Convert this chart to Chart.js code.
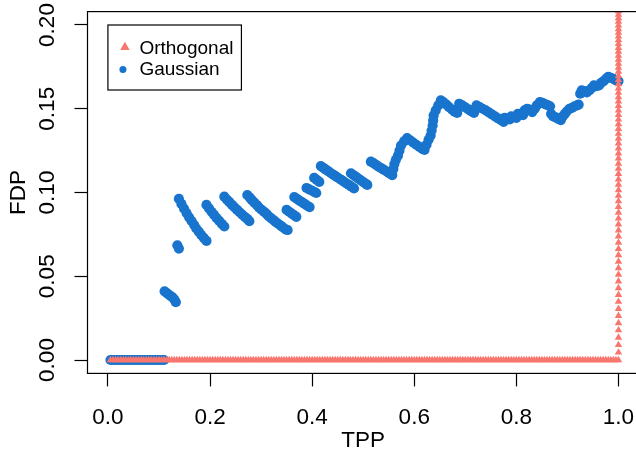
<!DOCTYPE html>
<html>
<head>
<meta charset="utf-8">
<script src="https://cdn.jsdelivr.net/npm/chart.js@4.4.1/dist/chart.umd.min.js"></script>
<style>
  html, body { margin: 0; padding: 0; background: #fff; overflow: hidden; }
  #wrap { position: absolute; left: 0; top: 0; width: 644px; height: 454px; }
</style>
</head>
<body>
<div id="wrap"><canvas id="fdp-chart"></canvas></div>
<script>
// axes
const xTicks = [0, 0.2, 0.4, 0.6, 0.8, 1.0];
const xTickLabels = ['0.0', '0.2', '0.4', '0.6', '0.8', '1.0'];
const yTicks = [0, 0.05, 0.10, 0.15, 0.20];
const yTickLabels = ['0.00', '0.05', '0.10', '0.15', '0.20'];
const seriesNames = ['Orthogonal', 'Gaussian'];

// Orthogonal: FDP stays 0 all the way to TPP = 1, then climbs at TPP = 1
const orthFlatTpp = [
  0.005,0.010,0.015,0.020,0.025,0.030,0.035,0.040,0.045,0.050,0.055,0.060,0.065,0.070,0.075,0.080,0.085,0.090,0.095,0.100,
  0.105,0.110,0.115,0.120,0.125,0.130,0.135,0.140,0.145,0.150,0.155,0.160,0.165,0.170,0.175,0.180,0.185,0.190,0.195,0.200,
  0.205,0.210,0.215,0.220,0.225,0.230,0.235,0.240,0.245,0.250,0.255,0.260,0.265,0.270,0.275,0.280,0.285,0.290,0.295,0.300,
  0.305,0.310,0.315,0.320,0.325,0.330,0.335,0.340,0.345,0.350,0.355,0.360,0.365,0.370,0.375,0.380,0.385,0.390,0.395,0.400,
  0.405,0.410,0.415,0.420,0.425,0.430,0.435,0.440,0.445,0.450,0.455,0.460,0.465,0.470,0.475,0.480,0.485,0.490,0.495,0.500,
  0.505,0.510,0.515,0.520,0.525,0.530,0.535,0.540,0.545,0.550,0.555,0.560,0.565,0.570,0.575,0.580,0.585,0.590,0.595,0.600,
  0.605,0.610,0.615,0.620,0.625,0.630,0.635,0.640,0.645,0.650,0.655,0.660,0.665,0.670,0.675,0.680,0.685,0.690,0.695,0.700,
  0.705,0.710,0.715,0.720,0.725,0.730,0.735,0.740,0.745,0.750,0.755,0.760,0.765,0.770,0.775,0.780,0.785,0.790,0.795,0.800,
  0.805,0.810,0.815,0.820,0.825,0.830,0.835,0.840,0.845,0.850,0.855,0.860,0.865,0.870,0.875,0.880,0.885,0.890,0.895,0.900,
  0.905,0.910,0.915,0.920,0.925,0.930,0.935,0.940,0.945,0.950,0.955,0.960,0.965,0.970,0.975,0.980,0.985,0.990,0.995,1.000
];
const orthFdpAtFull = [
  0.0045,0.0090,0.0134,0.0178,0.0221,0.0264,0.0306,0.0348,0.0389,0.0430,0.0470,0.0510,0.0549,0.0588,0.0626,0.0664,0.0701,
  0.0738,0.0774,0.0810,0.0845,0.0880,0.0914,0.0948,0.0981,0.1014,0.1047,0.1079,0.1111,0.1142,0.1173,0.1204,0.1234,0.1264,
  0.1293,0.1322,0.1351,0.1380,0.1408,0.1436,0.1463,0.1490,0.1517,0.1544,0.1570,0.1596,0.1622,0.1647,0.1672,0.1697,0.1722,
  0.1746,0.1770,0.1794,0.1818,0.1841,0.1864,0.1887,0.1910,0.1932,0.1954,0.1976,0.1998,0.2020,0.2041,0.2062,0.2083,0.2104
];

// Gaussian: one row per run of the saw-tooth
const gaussTpp = [
  0.005,0.010,0.015,0.020,0.025,0.030,0.035,0.040,0.045,0.050,0.055,0.060,0.065,0.070,0.075,0.080,0.085,0.090,0.095,0.100,0.105,0.110,
  0.111,0.116,0.121,0.126,0.130,0.133,
  0.136,0.139,
  0.139,0.144,0.149,0.154,0.159,0.164,0.169,0.173,0.178,0.183,0.188,0.193,
  0.193,0.198,0.203,0.208,0.213,0.218,0.223,0.228,
  0.228,0.233,0.238,0.243,0.248,0.253,0.258,0.263,0.268,0.273,0.277,
  0.273,0.278,0.282,0.287,0.292,0.296,0.301,0.306,0.311,0.315,0.320,0.325,0.329,0.334,0.339,0.343,0.348,0.352,
  0.350,0.355,0.360,0.365,0.369,
  0.365,0.370,0.375,0.380,0.385,0.390,0.395,
  0.389,0.394,0.399,0.404,0.408,
  0.404,0.409,0.414,
  0.417,0.422,0.427,0.432,0.437,0.442,0.447,0.452,0.457,0.462,0.467,0.472,0.477,0.482,
  0.476,0.481,0.486,0.491,0.496,0.501,0.506,0.508,
  0.515,0.520,0.525,0.530,0.535,0.540,0.545,0.550,0.555,0.557,
  0.559,0.561,0.564,0.568,0.571,0.574,0.580,0.586,
  0.592,0.598,0.604,0.610,0.616,0.620,
  0.624,0.628,0.632,0.634,0.636,0.637,0.638,0.642,0.647,0.652,
  0.657,0.663,0.668,0.674,0.679,0.684,
  0.686,0.688,0.694,0.700,0.706,0.711,0.717,
  0.719,0.722,0.728,0.734,0.740,0.746,0.752,0.758,0.764,0.770,0.775,
  0.777,0.782,0.787,0.790,0.795,0.800,0.803,0.808,0.813,0.816,0.821,0.826,0.831,
  0.836,0.840,0.846,0.851,0.856,0.861,0.866,
  0.868,0.872,0.877,0.882,0.887,
  0.891,0.895,0.899,0.904,0.909,0.914,0.919,0.922,
  0.925,0.928,0.933,0.938,0.943,0.948,0.952,0.957,0.962,0.966,0.971,0.976,0.980,0.985,0.990,0.995,1.000
];
const gaussFdp = [
  0,0,0,0,0,0,0,0,0,0,0,0,0,0,0,0,0,0,0,0,0,0,
  0.0410,0.0398,0.0386,0.0375,0.0362,0.0345,
  0.0685,0.0665,
  0.0962,0.0932,0.0904,0.0877,0.0852,0.0829,0.0806,0.0785,0.0766,0.0746,0.0728,0.0711,
  0.0926,0.0905,0.0885,0.0866,0.0847,0.0830,0.0813,0.0797,
  0.0975,0.0958,0.0942,0.0926,0.0911,0.0896,0.0882,0.0868,0.0855,0.0842,0.0829,
  0.0985,0.0969,0.0954,0.0939,0.0924,0.0910,0.0897,0.0884,0.0871,0.0858,0.0846,0.0834,0.0823,0.0812,0.0801,0.0791,0.0780,0.0776,
  0.0896,0.0885,0.0874,0.0864,0.0855,
  0.0973,0.0962,0.0952,0.0942,0.0932,0.0922,0.0913,
  0.1027,0.1019,0.1012,0.1004,0.0997,
  0.1087,0.1075,0.1063,
  0.1158,0.1147,0.1136,0.1126,0.1115,0.1105,0.1095,0.1085,0.1075,0.1065,0.1055,0.1045,0.1035,0.1025,
  0.1115,0.1104,0.1093,0.1082,0.1071,0.1060,0.1050,0.1045,
  0.1184,0.1175,0.1165,0.1155,0.1145,0.1136,0.1127,0.1117,0.1108,0.1104,
  0.1140,0.1170,0.1195,0.1220,0.1250,0.1280,0.1305,0.1325,
  0.1312,0.1298,0.1285,0.1272,0.1260,0.1254,
  0.1285,0.1315,0.1340,0.1370,0.1400,0.1430,0.1460,0.1490,0.1520,0.1550,
  0.1540,0.1525,0.1510,0.1495,0.1482,0.1475,
  0.1500,0.1530,0.1520,0.1508,0.1496,0.1485,0.1475,
  0.1500,0.1520,0.1510,0.1500,0.1490,0.1478,0.1466,0.1454,0.1442,0.1432,0.1422,
  0.1445,0.1440,0.1436,0.1455,0.1450,0.1446,0.1470,0.1466,0.1462,0.1490,0.1500,0.1495,0.1480,
  0.1500,0.1520,0.1540,0.1535,0.1528,0.1522,0.1515,
  0.1470,0.1455,0.1448,0.1440,0.1432,
  0.1455,0.1470,0.1485,0.1500,0.1505,0.1515,0.1520,0.1525,
  0.1590,0.1610,0.1605,0.1598,0.1610,0.1625,0.1640,0.1635,0.1640,0.1655,0.1665,0.1680,0.1690,0.1685,0.1678,0.1670,0.1665
];

const FONT = '"Liberation Sans", Arial, Helvetica, sans-serif';
const orthColor = '#F8766D';
const gaussColor = '#1874CD';

const orthPoints = orthFlatTpp.map(t => ({ x: t, y: 0 }))
  .concat(orthFdpAtFull.map(f => ({ x: 1, y: f })));
const gaussPoints = gaussTpp.map((t, i) => ({ x: t, y: gaussFdp[i] }));

// box, axis texts and legend in R style
const rStyle = {
  id: 'rStyle',
  afterDatasetsDraw(chart) {
    const { ctx, chartArea: a } = chart;
    ctx.save();
    ctx.strokeStyle = '#000';
    ctx.lineWidth = 1.2;
    ctx.strokeRect(a.left, a.top, a.right - a.left, a.bottom - a.top);
    ctx.restore();
  },
  afterDraw(chart) {
    const { ctx, chartArea: a, scales: { x, y } } = chart;
    ctx.save();
    ctx.fillStyle = '#000';
    ctx.font = '22.5px ' + FONT;
    ctx.textAlign = 'center';
    ctx.textBaseline = 'alphabetic';

    xTicks.forEach((v, i) => ctx.fillText(xTickLabels[i], x.getPixelForValue(v), a.bottom + 50.6));
    ctx.fillText('TPP', (a.left + a.right) / 2, a.bottom + 73.5);

    yTicks.forEach((v, i) => {
      ctx.save();
      ctx.translate(a.left - 34, y.getPixelForValue(v));
      ctx.rotate(-Math.PI / 2);
      ctx.fillText(yTickLabels[i], 0, 0);
      ctx.restore();
    });
    ctx.save();
    ctx.translate(a.left - 63, (a.top + a.bottom) / 2);
    ctx.rotate(-Math.PI / 2);
    ctx.fillText('FDP', 0, 0);
    ctx.restore();

    // legend, anchored at (0, 0.20)
    const lx = x.getPixelForValue(0), ly = y.getPixelForValue(0.2);
    ctx.fillStyle = '#fff';
    ctx.fillRect(lx, ly, 133.5, 65);
    ctx.strokeStyle = '#000';
    ctx.lineWidth = 1.2;
    ctx.strokeRect(lx, ly, 133.5, 65);

    ctx.fillStyle = orthColor;
    Chart.helpers.drawPoint(ctx, { pointStyle: 'triangle', radius: 5.5, borderWidth: 0 }, lx + 17, ly + 22.2);
    ctx.fillStyle = gaussColor;
    Chart.helpers.drawPoint(ctx, { pointStyle: 'circle', radius: 3.5, borderWidth: 0 }, lx + 15, ly + 44.5);

    ctx.fillStyle = '#000';
    ctx.font = '19px ' + FONT;
    ctx.textAlign = 'left';
    ctx.fillText(seriesNames[0], lx + 31.5, ly + 28.5);
    ctx.fillText(seriesNames[1], lx + 31.5, ly + 50);
    ctx.restore();
  }
};

const ctx = document.getElementById('fdp-chart').getContext('2d');
new Chart(ctx, {
  type: 'scatter',
  data: {
    datasets: [{
      label: seriesNames[0],
      data: orthPoints,
      pointStyle: 'triangle',
      pointRadius: 4.3,
      pointBorderWidth: 0,
      backgroundColor: orthColor,
      borderColor: orthColor,
      clip: 0
    }, {
      label: seriesNames[1],
      data: gaussPoints,
      pointStyle: 'circle',
      pointRadius: 5.1,
      pointBorderWidth: 0,
      backgroundColor: gaussColor,
      borderColor: gaussColor,
      clip: 0
    }]
  },
  options: {
    animation: false,
    responsive: true,
    maintainAspectRatio: false,
    devicePixelRatio: 1,
    layout: { padding: { top: 11.6, right: 3.5, left: 0, bottom: 0 } },
    plugins: { legend: { display: false }, tooltip: { enabled: false } },
    events: [],
    scales: {
      x: {
        type: 'linear',
        min: -0.04,
        max: 1.04,
        afterBuildTicks: s => { s.ticks = xTicks.map(v => ({ value: v })); },
        afterFit: s => { s.height = 80.6; },
        border: { display: false },
        grid: { drawOnChartArea: false, drawTicks: true, tickLength: 13, tickColor: '#000', tickWidth: 1.2 },
        ticks: { display: false }
      },
      y: {
        type: 'linear',
        min: -0.008,
        max: 0.208,
        afterBuildTicks: s => { s.ticks = yTicks.map(v => ({ value: v })); },
        afterFit: s => { s.width = 87.5; },
        border: { display: false },
        grid: { drawOnChartArea: false, drawTicks: true, tickLength: 13, tickColor: '#000', tickWidth: 1.2 },
        ticks: { display: false }
      }
    }
  },
  plugins: [rStyle]
});
</script>
</body>
</html>
